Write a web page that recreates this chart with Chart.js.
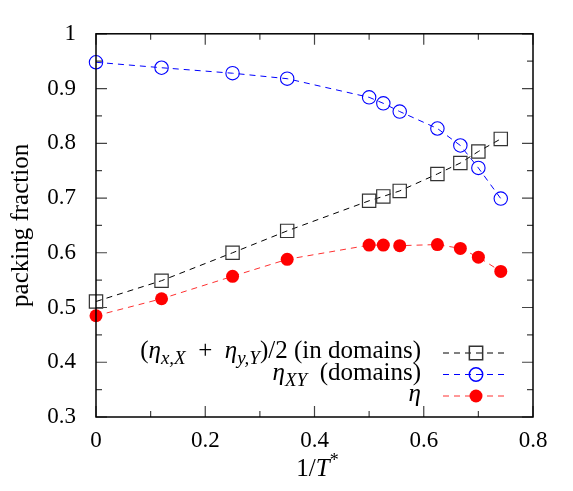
<!DOCTYPE html>
<html>
<head>
<meta charset="utf-8">
<script src="https://cdn.jsdelivr.net/npm/chart.js@4.4.0/dist/chart.umd.min.js"></script>
<style>
  html, body { margin: 0; padding: 0; background: #fff; }
  canvas { display: block; }
</style>
</head>
<body>
<canvas id="packChart" width="573" height="491"></canvas>
<script>
  // 1/T* of the runs
  var invT = [0, 0.12, 0.25, 0.35, 0.5, 0.526, 0.556, 0.625, 0.667, 0.7, 0.741]
  // (eta_xX + eta_yY)/2 in domains
  var etaDomains = [0.511, 0.549, 0.600, 0.640, 0.695, 0.703, 0.713, 0.744, 0.764, 0.785, 0.808]
  // eta_XY in domains
  var etaXY = [0.948, 0.938, 0.928, 0.918, 0.884, 0.873, 0.858, 0.827, 0.796, 0.755, 0.699]
  // total eta
  var eta = [0.485, 0.516, 0.557, 0.588, 0.614, 0.614, 0.613, 0.615, 0.608, 0.592, 0.566]

  var xTicks = [0, 0.2, 0.4, 0.6, 0.8]
  var yTicks = [0.3, 0.4, 0.5, 0.6, 0.7, 0.8, 0.9, 1]

  var FONT = 'Liberation Serif'
  var TICK_FS = 23
  var FS = 25

  function pts(ys) {
    return invT.map(function (x, i) { return { x: x, y: ys[i] } })
  }

  // legend text, pieces: [text, style]  style: '' upright, 'i' italic, 's' italic subscript
  var legendRows = [
    [['(', ''], ['η', 'i'], ['x,X', 's'], ['  +  ', ''], ['η', 'i'], ['y,Y', 's'], [')/2 (in domains)', '']],
    [['η', 'i'], ['XY', 's'], ['  (domains)', '']],
    [['η', 'i']]
  ]

  function setFont(ctx, style) {
    if (style === 'i') ctx.font = 'italic ' + FS + 'px "' + FONT + '"'
    else if (style === 's') ctx.font = 'italic ' + Math.round(FS * 0.74) + 'px "' + FONT + '"'
    else if (style === 'sup') ctx.font = Math.round(FS * 0.7) + 'px "' + FONT + '"'
    else ctx.font = FS + 'px "' + FONT + '"'
  }

  function richWidth(ctx, parts) {
    var w = 0
    parts.forEach(function (p) { setFont(ctx, p[1]); w += ctx.measureText(p[0]).width })
    return w
  }

  function drawRich(ctx, parts, x, y) {
    parts.forEach(function (p) {
      setFont(ctx, p[1])
      var dy = p[1] === 's' ? 6 : (p[1] === 'sup' ? -10 : 0)
      ctx.fillText(p[0], x, y + dy)
      x += ctx.measureText(p[0]).width
    })
  }

  var frame = {
    id: 'frame',
    afterDraw: function (chart) {
      var ctx = chart.ctx
      var a = chart.chartArea
      var xs = chart.scales.x
      var ys = chart.scales.y
      ctx.save()

      // inward tick marks on all four sides, minor ones halfway
      ctx.strokeStyle = '#444'
      ctx.lineWidth = 1.2
      ctx.beginPath()
      xTicks.forEach(function (v, i) {
        var px = xs.getPixelForValue(v)
        ctx.moveTo(px, a.bottom); ctx.lineTo(px, a.bottom - 11)
        ctx.moveTo(px, a.top); ctx.lineTo(px, a.top + 11)
        if (i < xTicks.length - 1) {
          var mx = xs.getPixelForValue((v + xTicks[i + 1]) / 2)
          ctx.moveTo(mx, a.bottom); ctx.lineTo(mx, a.bottom - 6)
          ctx.moveTo(mx, a.top); ctx.lineTo(mx, a.top + 6)
        }
      })
      yTicks.forEach(function (v, i) {
        var py = ys.getPixelForValue(v)
        ctx.moveTo(a.left, py); ctx.lineTo(a.left + 11, py)
        ctx.moveTo(a.right, py); ctx.lineTo(a.right - 11, py)
        if (i < yTicks.length - 1) {
          var my = ys.getPixelForValue((v + yTicks[i + 1]) / 2)
          ctx.moveTo(a.left, my); ctx.lineTo(a.left + 6, my)
          ctx.moveTo(a.right, my); ctx.lineTo(a.right - 6, my)
        }
      })
      ctx.stroke()

      ctx.strokeStyle = '#000'
      ctx.lineWidth = 1.5
      ctx.strokeRect(a.left, a.top, a.right - a.left, a.bottom - a.top)

      // x axis title 1/T*
      ctx.fillStyle = '#000'
      ctx.textBaseline = 'alphabetic'
      var xTitle = [['1/', ''], ['T', 'i'], ['*', 'sup']]
      var tw = richWidth(ctx, xTitle)
      drawRich(ctx, xTitle, (a.left + a.right) / 2 - tw / 2 + 3, 476)

      // legend, right-aligned text with a line sample
      var textRight = 421
      var x0 = 443, x1 = 505, xm = 476
      chart.data.datasets.forEach(function (ds, i) {
        var y = 353 + i * 21.5
        var parts = legendRows[i]
        ctx.fillStyle = '#000'
        drawRich(ctx, parts, textRight - richWidth(ctx, parts), y + 5)
        ctx.save()
        ctx.strokeStyle = ds.borderColor
        ctx.lineWidth = ds.borderWidth
        ctx.setLineDash(ds.borderDash)
        ctx.beginPath(); ctx.moveTo(x0, y); ctx.lineTo(x1, y); ctx.stroke()
        ctx.restore()
        ctx.strokeStyle = ds.pointBorderColor
        ctx.fillStyle = ds.pointBackgroundColor
        Chart.helpers.drawPoint(ctx, {
          pointStyle: ds.pointStyle, radius: ds.pointRadius, rotation: 0, borderWidth: ds.pointBorderWidth
        }, xm, y)
      })
      ctx.restore()
    }
  }

  var ctx = document.getElementById('packChart').getContext('2d')
  var packChart = new Chart(ctx, {
    type: 'scatter',
    data: {
      datasets: [
        {
          label: '(eta_x,X + eta_y,Y)/2 (in domains)',
          data: pts(etaDomains),
          showLine: true,
          borderColor: '#000',
          borderWidth: 1,
          borderDash: [6, 5],
          pointStyle: 'rect',
          pointRadius: 9.4,
          pointBorderColor: '#333',
          pointBackgroundColor: 'rgba(0,0,0,0)',
          pointBorderWidth: 1.2,
          clip: false
        },
        {
          label: 'eta_XY (domains)',
          data: pts(etaXY),
          showLine: true,
          borderColor: '#0000ff',
          borderWidth: 1,
          borderDash: [6, 5],
          pointStyle: 'circle',
          pointRadius: 6.7,
          pointBorderColor: '#0000ff',
          pointBackgroundColor: 'rgba(0,0,0,0)',
          pointBorderWidth: 1.1,
          clip: false
        },
        {
          label: 'eta',
          data: pts(eta),
          showLine: true,
          borderColor: '#ff3030',
          borderWidth: 1,
          borderDash: [6, 5],
          pointStyle: 'circle',
          pointRadius: 6.5,
          pointBorderColor: '#ff0000',
          pointBackgroundColor: '#ff0000',
          pointBorderWidth: 0,
          clip: false
        }
      ]
    },
    options: {
      responsive: false,
      animation: false,
      devicePixelRatio: 1,
      layout: { padding: { left: 0, top: 25, right: 40, bottom: 0 } },
      plugins: { legend: { display: false }, tooltip: { enabled: false } },
      scales: {
        x: {
          type: 'linear',
          min: 0,
          max: 0.8,
          afterBuildTicks: function (s) { s.ticks = xTicks.map(function (v) { return { value: v } }) },
          afterFit: function (s) { s.height = 74 },
          grid: { display: false, drawTicks: false },
          border: { display: false },
          ticks: {
            padding: 10,
            color: '#000',
            font: { family: FONT, size: TICK_FS },
            callback: function (v) { return String(v) }
          }
        },
        y: {
          type: 'linear',
          min: 0.3,
          max: 1,
          afterBuildTicks: function (s) { s.ticks = yTicks.map(function (v) { return { value: v } }) },
          afterFit: function (s) { s.width = 96 },
          grid: { display: false, drawTicks: false },
          border: { display: false },
          ticks: {
            padding: 20,
            color: '#000',
            font: { family: FONT, size: TICK_FS },
            callback: function (v) { return String(v) }
          },
          title: {
            display: true,
            text: 'packing fraction',
            color: '#000',
            font: { family: FONT, size: FS },
            padding: { top: 6, bottom: 0 }
          }
        }
      }
    },
    plugins: [frame]
  })
</script>
</body>
</html>
